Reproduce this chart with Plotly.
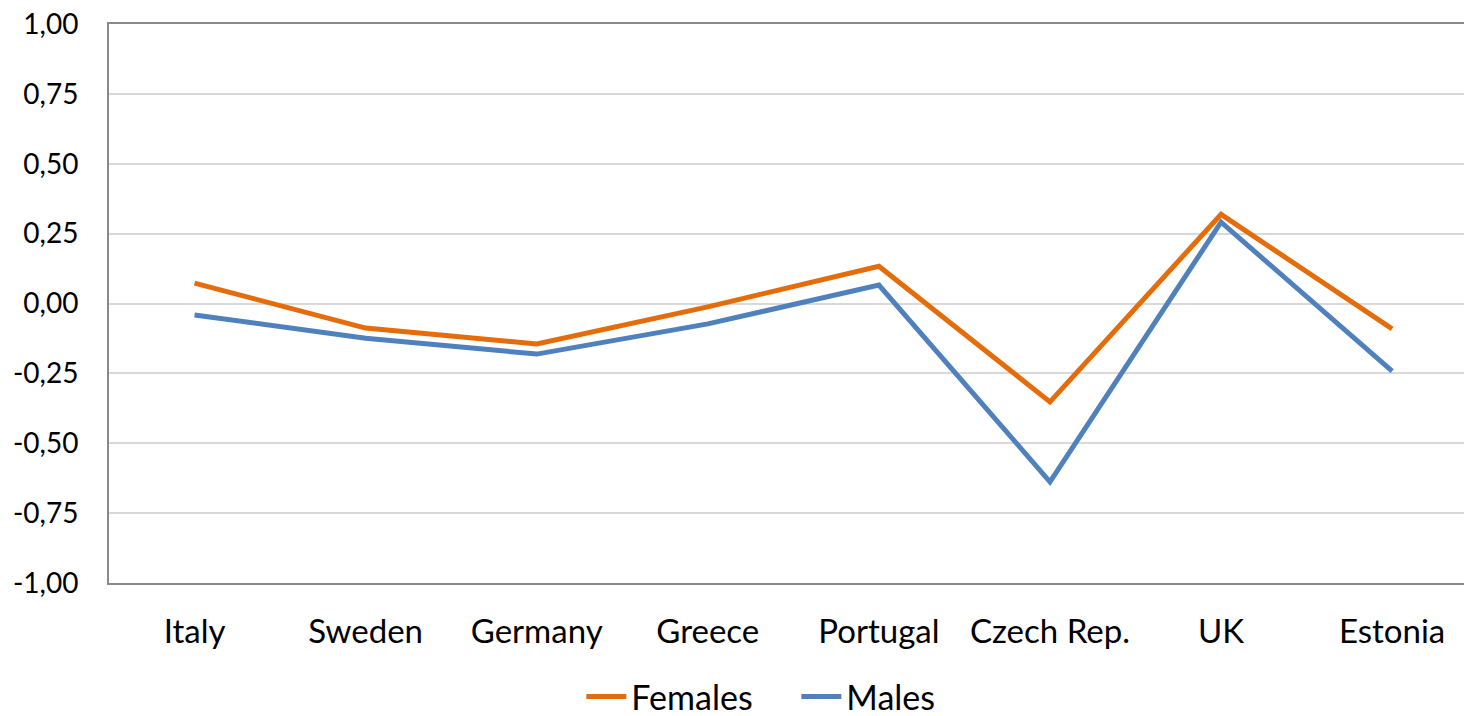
import plotly.graph_objects as go

countries = ["Italy", "Sweden", "Germany", "Greece", "Portugal", "Czech Rep.", "UK", "Estonia"]
females = [0.073, -0.088, -0.145, -0.012, 0.133, -0.352, 0.319, -0.091]
males = [-0.041, -0.124, -0.181, -0.073, 0.066, -0.638, 0.291, -0.242]
y_tickvals = [-1.0, -0.75, -0.5, -0.25, 0.0, 0.25, 0.5, 0.75, 1.0]
y_ticktext = ["-1,00", "-0,75", "-0,50", "-0,25", "0,00", "0,25", "0,50", "0,75", "1,00"]

FONT = "Lato"

fig = go.Figure()
fig.add_trace(go.Scatter(x=countries, y=females, mode="lines", name="Females",
                         line=dict(color="#E46C0A", width=5)))
fig.add_trace(go.Scatter(x=countries, y=males, mode="lines", name="Males",
                         line=dict(color="#4F81BD", width=5)))

fig.update_layout(
    width=1464, height=716,
    margin=dict(l=109, r=0, t=24, b=133, autoexpand=False),
    paper_bgcolor="white", plot_bgcolor="white",
    font=dict(family=FONT, color="black"),
    showlegend=True,
    legend=dict(orientation="h", x=0.3486, xanchor="left", y=-0.152, yanchor="top",
                font=dict(size=34, family=FONT), itemwidth=40,
                entrywidth=160, entrywidthmode="pixels",
                traceorder="normal"),
    xaxis=dict(
        type="category", range=[-0.5, 7.42], automargin=False,
        showline=True, linecolor="#898989", linewidth=2, mirror=True,
        showgrid=False, ticks="", tickfont=dict(size=33, family=FONT),
        ticklabelstandoff=18, ticklabeloverflow="allow",
    ),
    yaxis=dict(
        range=[-1.0, 1.0], tickvals=y_tickvals, ticktext=y_ticktext, automargin=False,
        showline=True, linecolor="#898989", linewidth=2,
        showgrid=True, gridcolor="#D9D9D9", gridwidth=2,
        zeroline=False, ticks="", tickfont=dict(size=28, family=FONT),
        ticklabelstandoff=23, ticklabeloverflow="allow",
    ),
)

fig.write_html("out.html",
               config={"displayModeBar": False},
               post_script="document.body.style.margin='0';document.body.style.overflow='hidden';")
